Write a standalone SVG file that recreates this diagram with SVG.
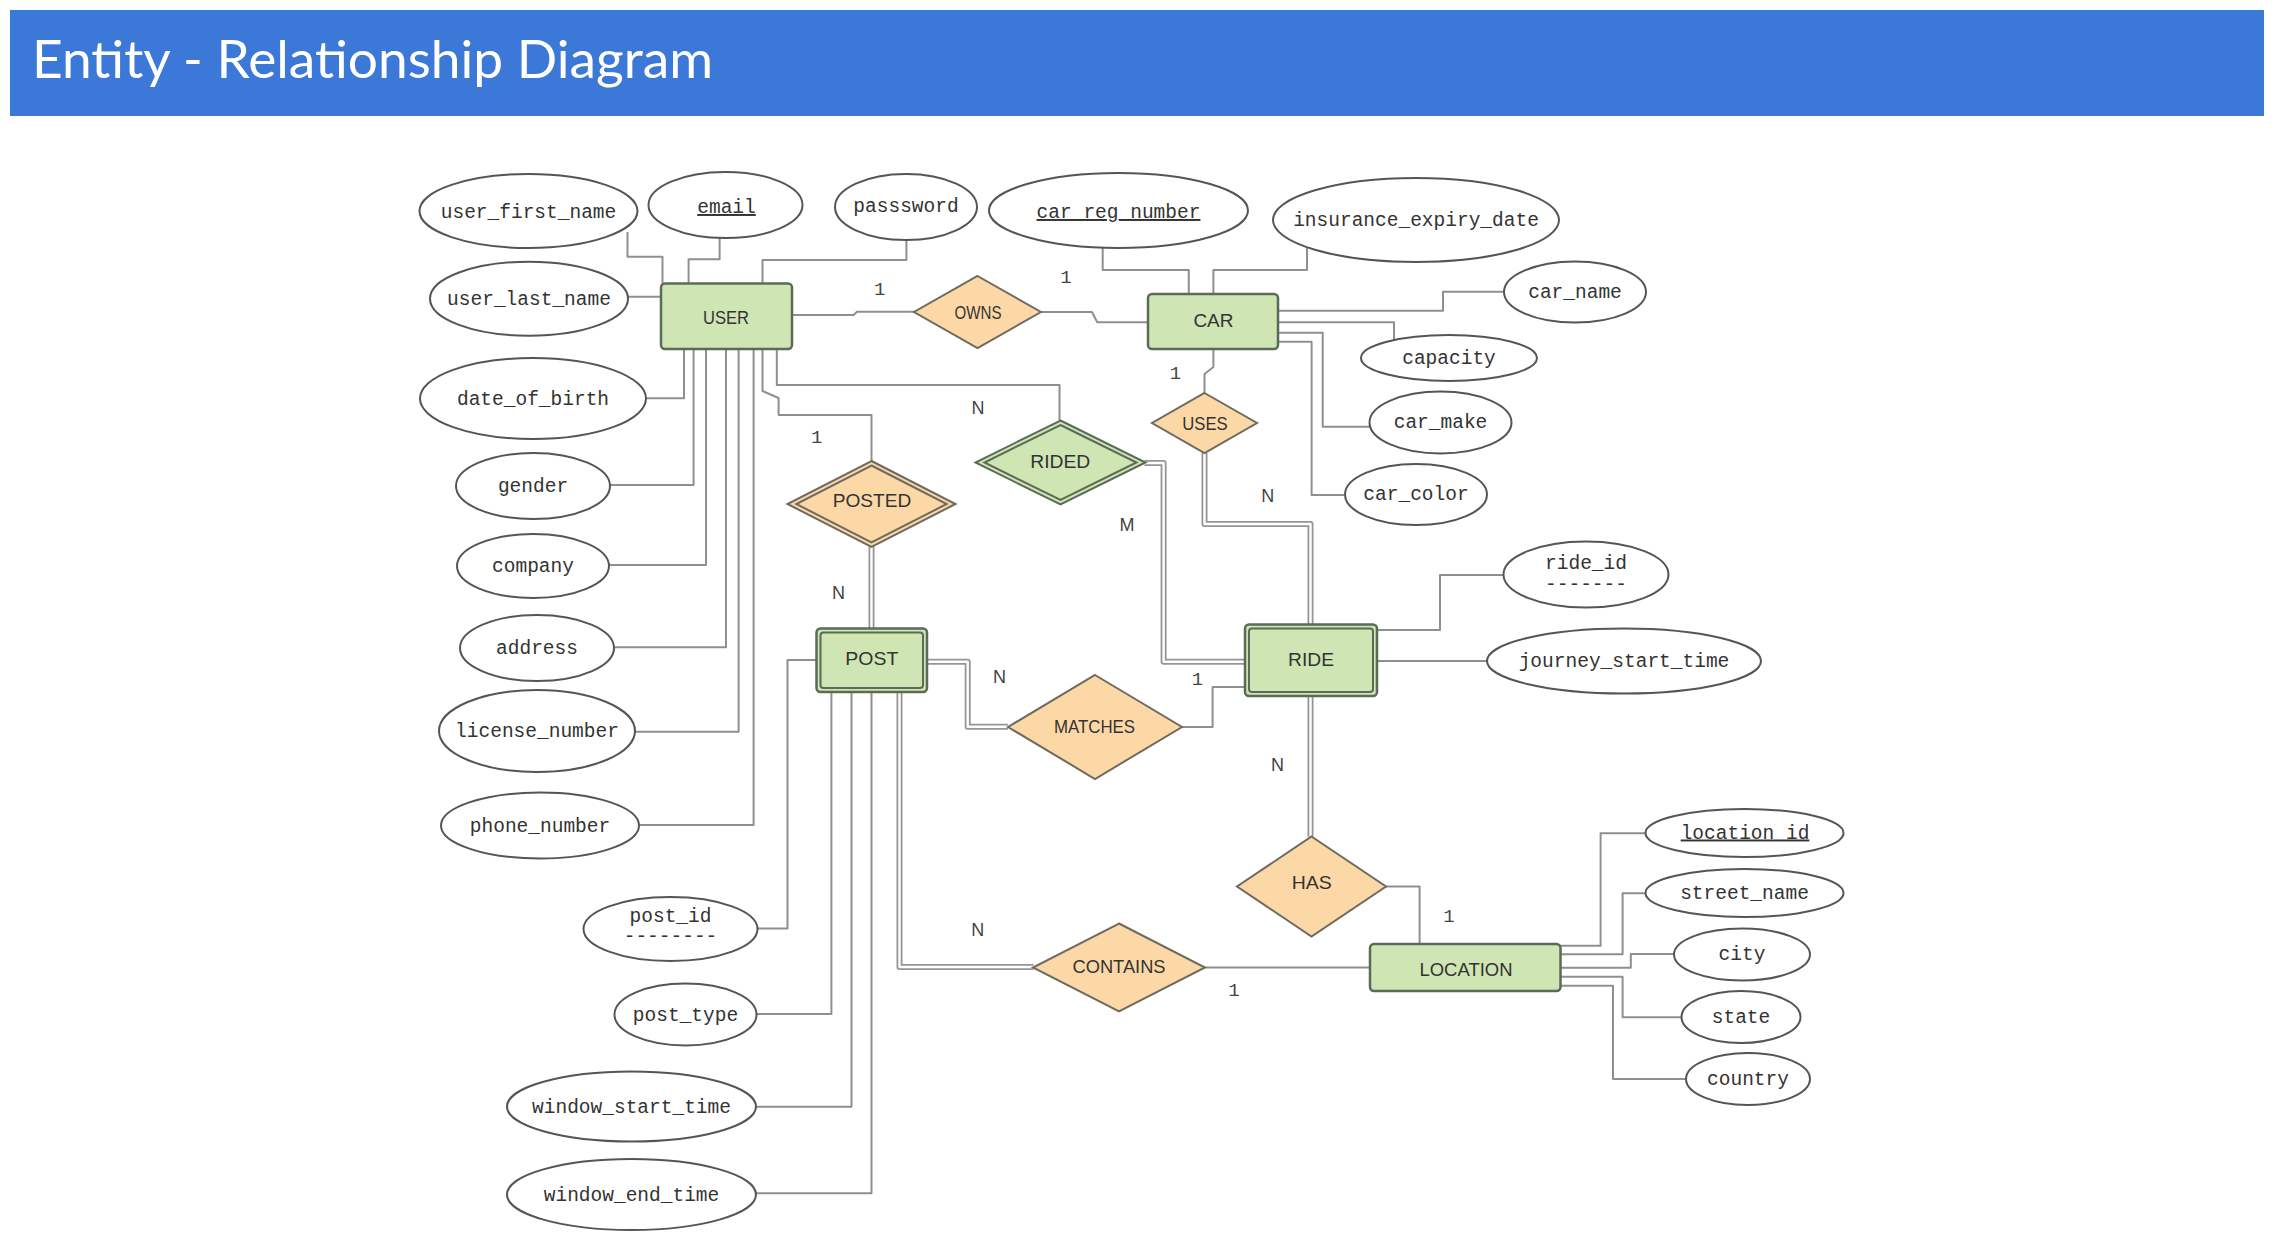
<svg xmlns="http://www.w3.org/2000/svg" width="2274" height="1258" viewBox="0 0 2274 1258">
<style>
.bg{fill:#ffffff}
.bar{fill:#3c78d8}
.title{font-family:"Lato","Noto Sans",sans-serif;font-size:52px;fill:#ffffff;font-weight:400}
.attr{fill:#ffffff;stroke:#555555;stroke-width:2}
.at{font-family:"Liberation Mono","DejaVu Sans Mono",monospace;font-size:19.5px;fill:#333333;text-anchor:middle}
.ent{fill:#cfe5b4;stroke:#5b6b57;stroke-width:2.5}
.entin{fill:none;stroke:#5b6b57;stroke-width:2}
.rel{fill:#fcd8a6;stroke:#6f6a60;stroke-width:2}
.relin{fill:none;stroke:#6f6a60;stroke-width:2}
.relg{fill:#cfe5b4;stroke:#5b6b57;stroke-width:2}
.lbl{font-family:"Liberation Sans",Arial,sans-serif;font-size:18px;fill:#333333;text-anchor:middle}
.ln{fill:none;stroke:#8f8f8f;stroke-width:2;stroke-linejoin:round}
.dbo{fill:none;stroke:#959595;stroke-width:6;stroke-linejoin:round}
.dbi{fill:none;stroke:#ffffff;stroke-width:2.4;stroke-linejoin:round}
.card{font-family:"Liberation Sans",Arial,sans-serif;font-size:18px;fill:#444444;text-anchor:middle}
.cardm{font-family:"Liberation Mono",monospace;font-size:19px;fill:#444444;text-anchor:middle}
</style>
<rect class="bg" x="0" y="0" width="2274" height="1258"/>
<g id="title">
<rect class="bar" x="10" y="10" width="2254" height="106"/>
<text class="title" x="32" y="78" textLength="681" lengthAdjust="spacingAndGlyphs">Entity - Relationship Diagram</text>
</g>

<g id="connectors">
<path class="ln" d="M627.5,232 V256.7 H662.5 V283.5"/>
<path class="ln" d="M719.6,238 V259.3 H688.6 V283.5"/>
<path class="ln" d="M906.4,240 V260 H762.5 V283.5"/>
<path class="ln" d="M627.5,296.7 H661"/>
<path class="ln" d="M792,315 H853.6 L857,311.7 H914"/>
<path class="ln" d="M684,349 V398.3 H646"/>
<path class="ln" d="M693.6,349 V485 H610"/>
<path class="ln" d="M706,349 V565 H609"/>
<path class="ln" d="M726,349 V647.3 H614"/>
<path class="ln" d="M738.6,349 V731.7 H635"/>
<path class="ln" d="M753.6,349 V825 H639"/>
<path class="ln" d="M762.5,349 V391 L778.6,398 V415 H871.5 V461.5"/>
<path class="ln" d="M776.8,349 V385 H1059.5 V420.5"/>
<path class="ln" d="M1102.7,247.7 V270 H1188.8 V294"/>
<path class="ln" d="M1307,247 V270 H1213.4 V294"/>
<path class="ln" d="M1041,312 H1092 L1097.3,322.3 H1148"/>
<path class="ln" d="M1278,310.7 H1443 V291.7 H1504"/>
<path class="ln" d="M1278,322.3 H1394 V340"/>
<path class="ln" d="M1278,332.7 H1322.7 V426.7 H1370"/>
<path class="ln" d="M1278,341.7 H1311.6 V495 H1345"/>
<path class="ln" d="M1213.4,349 V367 L1204.5,374 V393"/>
<path class="ln" d="M1377,630 H1440 V575 H1503.5"/>
<path class="ln" d="M1377,661 H1487"/>
<path class="ln" d="M1182,727 H1212.6 V687 H1245"/>
<path class="ln" d="M1386,886.5 H1419.6 V944"/>
<path class="ln" d="M1205,967.5 H1370"/>
<path class="ln" d="M1560.5,945.7 H1600.6 V833.3 H1645"/>
<path class="ln" d="M1560.5,954.3 H1622.6 V893.3 H1645"/>
<path class="ln" d="M1560.5,967.7 H1630.8 V954 H1674"/>
<path class="ln" d="M1560.5,976.7 H1622.6 V1017.3 H1681.5"/>
<path class="ln" d="M1560.5,985.7 H1613 V1079 H1686"/>
<path class="ln" d="M816.5,660 H787.5 V928.5 H757.5"/>
<path class="ln" d="M831.4,692 V1014 H756.5"/>
<path class="ln" d="M851.5,692 V1106.7 H756"/>
<path class="ln" d="M871.5,692 V1193.3 H756"/>
<path class="dbo" d="M871.5,546.5 V628.5"/>
<path class="dbi" d="M871.5,546.5 V628.5"/>
<path class="dbo" d="M927,661.7 H967.7 V726.7 H1008"/>
<path class="dbi" d="M927,661.7 H967.7 V726.7 H1008"/>
<path class="dbo" d="M1144.5,463 H1163.6 V661.7 H1245"/>
<path class="dbi" d="M1144.5,463 H1163.6 V661.7 H1245"/>
<path class="dbo" d="M1204.5,453 V524 H1310.5 V624.5"/>
<path class="dbi" d="M1204.5,453 V524 H1310.5 V624.5"/>
<path class="dbo" d="M1310.5,696 V836.7"/>
<path class="dbi" d="M1310.5,696 V836.7"/>
<path class="dbo" d="M899.5,692 V967 H1033.5"/>
<path class="dbi" d="M899.5,692 V967 H1033.5"/>
<text class="cardm" x="879.6" y="294.5">1</text>
<text class="cardm" x="1066" y="282.5">1</text>
<text class="cardm" x="816.7" y="442.5">1</text>
<text class="card" x="838.4" y="598.5">N</text>
<text class="card" x="978" y="414">N</text>
<text class="cardm" x="1175.4" y="378.5">1</text>
<text class="card" x="1267.8" y="501.5">N</text>
<text class="card" x="1127" y="531">M</text>
<text class="card" x="999.6" y="682.5">N</text>
<text class="cardm" x="1197.5" y="684.5">1</text>
<text class="card" x="1277.5" y="770.5">N</text>
<text class="cardm" x="1449" y="922">1</text>
<text class="card" x="977.7" y="935.5">N</text>
<text class="cardm" x="1234" y="996">1</text>
</g>

<g id="USER"><rect class="ent" x="661" y="283.5" width="131" height="65.5" rx="4"/><text class="lbl" x="726" y="323.5" textLength="46" lengthAdjust="spacingAndGlyphs">USER</text></g>
<g id="CAR"><rect class="ent" x="1148" y="294" width="130" height="55" rx="4"/><text class="lbl" x="1213.4" y="327.3" textLength="40" lengthAdjust="spacingAndGlyphs">CAR</text></g>
<g id="POST"><rect class="ent" x="816.5" y="628.5" width="110.5" height="63.5" rx="4"/><rect class="entin" x="820.5" y="632.5" width="102.5" height="55.5" rx="3"/><text class="lbl" x="871.8" y="665" textLength="53" lengthAdjust="spacingAndGlyphs">POST</text></g>
<g id="RIDE"><rect class="ent" x="1245" y="624.5" width="132" height="71.5" rx="4"/><rect class="entin" x="1249" y="628.5" width="124" height="63.5" rx="3"/><text class="lbl" x="1311" y="665.7" textLength="46" lengthAdjust="spacingAndGlyphs">RIDE</text></g>
<g id="LOCATION"><rect class="ent" x="1370" y="944" width="190.5" height="47" rx="4"/><text class="lbl" x="1466" y="975.7" textLength="93" lengthAdjust="spacingAndGlyphs">LOCATION</text></g>

<g id="OWNS"><polygon class="rel" points="977.5,276 1041,312 977.5,348 914,312"/><text class="lbl" x="978" y="319.3" textLength="47" lengthAdjust="spacingAndGlyphs">OWNS</text></g>
<g id="USES"><polygon class="rel" points="1204.5,393 1257,423 1204.5,453 1152,423"/><text class="lbl" x="1205" y="430" textLength="45.5" lengthAdjust="spacingAndGlyphs">USES</text></g>
<g id="POSTED"><polygon class="rel" points="871.5,461 955.5,504 871.5,547 787.5,504"/><polygon class="relin" points="871.5,465.5 946.7,504 871.5,542.5 796.3,504"/><text class="lbl" x="872" y="507.3" textLength="78.5" lengthAdjust="spacingAndGlyphs">POSTED</text></g>
<g id="RIDED"><polygon class="relg" points="1060.5,420.5 1145.5,462.5 1060.5,504.5 975.5,462.5"/><polygon class="relin" style="stroke:#5b6b57" points="1060.5,425 1136.5,462.5 1060.5,500 984.5,462.5"/><text class="lbl" x="1060.3" y="468.3" textLength="60" lengthAdjust="spacingAndGlyphs">RIDED</text></g>
<g id="MATCHES"><polygon class="rel" points="1095,675 1182,727 1095,779 1008,727"/><text class="lbl" x="1094.5" y="733.3" textLength="81" lengthAdjust="spacingAndGlyphs">MATCHES</text></g>
<g id="HAS"><polygon class="rel" points="1311.5,836.5 1386,886.5 1311.5,936.5 1237,886.5"/><text class="lbl" x="1311.8" y="889.3" textLength="40" lengthAdjust="spacingAndGlyphs">HAS</text></g>
<g id="CONTAINS"><polygon class="rel" points="1119,923.5 1205,967.5 1119,1011.5 1033,967.5"/><text class="lbl" x="1119" y="972.7" textLength="93" lengthAdjust="spacingAndGlyphs">CONTAINS</text></g>

<g id="user_first_name"><ellipse class="attr" cx="528.5" cy="211" rx="109" ry="37"/><text class="at" x="528.5" y="218">user_first_name</text></g>
<g id="email"><ellipse class="attr" cx="725.5" cy="205" rx="77" ry="33"/><text class="at" x="726.5" y="213" text-decoration="underline">email</text></g>
<g id="passsword"><ellipse class="attr" cx="906" cy="207" rx="71" ry="33"/><text class="at" x="906" y="212">passsword</text></g>
<g id="user_last_name"><ellipse class="attr" cx="529" cy="298.7" rx="99" ry="37"/><text class="at" x="529" y="305">user_last_name</text></g>
<g id="date_of_birth"><ellipse class="attr" cx="533" cy="398.5" rx="113" ry="40.5"/><text class="at" x="533" y="405">date_of_birth</text></g>
<g id="gender"><ellipse class="attr" cx="533" cy="486" rx="77" ry="33"/><text class="at" x="533" y="492">gender</text></g>
<g id="company"><ellipse class="attr" cx="533" cy="566" rx="76" ry="32"/><text class="at" x="533" y="572">company</text></g>
<g id="address"><ellipse class="attr" cx="537" cy="648" rx="77" ry="33"/><text class="at" x="537" y="654">address</text></g>
<g id="license_number"><ellipse class="attr" cx="537" cy="731" rx="98" ry="41"/><text class="at" x="537" y="737">license_number</text></g>
<g id="phone_number"><ellipse class="attr" cx="540" cy="825.5" rx="99" ry="33"/><text class="at" x="540" y="831.5">phone_number</text></g>
<g id="post_id"><ellipse class="attr" cx="670.5" cy="929" rx="87" ry="32"/><text class="at" x="670.5" y="922">post_id</text><text class="at" x="670.5" y="942">--------</text></g>
<g id="post_type"><ellipse class="attr" cx="685.5" cy="1014.5" rx="71" ry="31"/><text class="at" x="685.5" y="1020.5">post_type</text></g>
<g id="window_start_time"><ellipse class="attr" cx="631.5" cy="1106.5" rx="124.5" ry="35"/><text class="at" x="631.5" y="1112.5">window_start_time</text></g>
<g id="window_end_time"><ellipse class="attr" cx="631.5" cy="1194.5" rx="124.5" ry="35.5"/><text class="at" x="631.5" y="1200.5">window_end_time</text></g>
<g id="car_reg_number"><ellipse class="attr" cx="1118.5" cy="210.5" rx="129.5" ry="37.5"/><text class="at" x="1118.5" y="218" text-decoration="underline">car_reg_number</text></g>
<g id="insurance_expiry_date"><ellipse class="attr" cx="1416" cy="220" rx="143" ry="42"/><text class="at" x="1416" y="226">insurance_expiry_date</text></g>
<g id="car_name"><ellipse class="attr" cx="1575" cy="292" rx="71" ry="30.5"/><text class="at" x="1575" y="297.5">car_name</text></g>
<g id="capacity"><ellipse class="attr" cx="1449" cy="358" rx="88" ry="23"/><text class="at" x="1449" y="363.5">capacity</text></g>
<g id="car_make"><ellipse class="attr" cx="1440.5" cy="422.5" rx="71" ry="31"/><text class="at" x="1440.5" y="428">car_make</text></g>
<g id="car_color"><ellipse class="attr" cx="1416" cy="494.5" rx="71" ry="30.5"/><text class="at" x="1416" y="500">car_color</text></g>
<g id="ride_id"><ellipse class="attr" cx="1586" cy="574.5" rx="82.5" ry="33"/><text class="at" x="1586" y="569">ride_id</text><text class="at" x="1586" y="589.5">-------</text></g>
<g id="journey_start_time"><ellipse class="attr" cx="1624" cy="661" rx="137" ry="32.5"/><text class="at" x="1624" y="667">journey_start_time</text></g>
<g id="location_id"><ellipse class="attr" cx="1744.5" cy="833" rx="99" ry="24"/><text class="at" x="1745" y="838.5" text-decoration="underline">location_id</text></g>
<g id="street_name"><ellipse class="attr" cx="1744.5" cy="893" rx="99" ry="24"/><text class="at" x="1744.5" y="898.5">street_name</text></g>
<g id="city"><ellipse class="attr" cx="1742" cy="954.5" rx="68" ry="26"/><text class="at" x="1742" y="960">city</text></g>
<g id="state"><ellipse class="attr" cx="1741" cy="1017" rx="59.5" ry="26"/><text class="at" x="1741" y="1022.5">state</text></g>
<g id="country"><ellipse class="attr" cx="1748" cy="1079" rx="62" ry="26"/><text class="at" x="1748" y="1084.5">country</text></g>
</svg>
